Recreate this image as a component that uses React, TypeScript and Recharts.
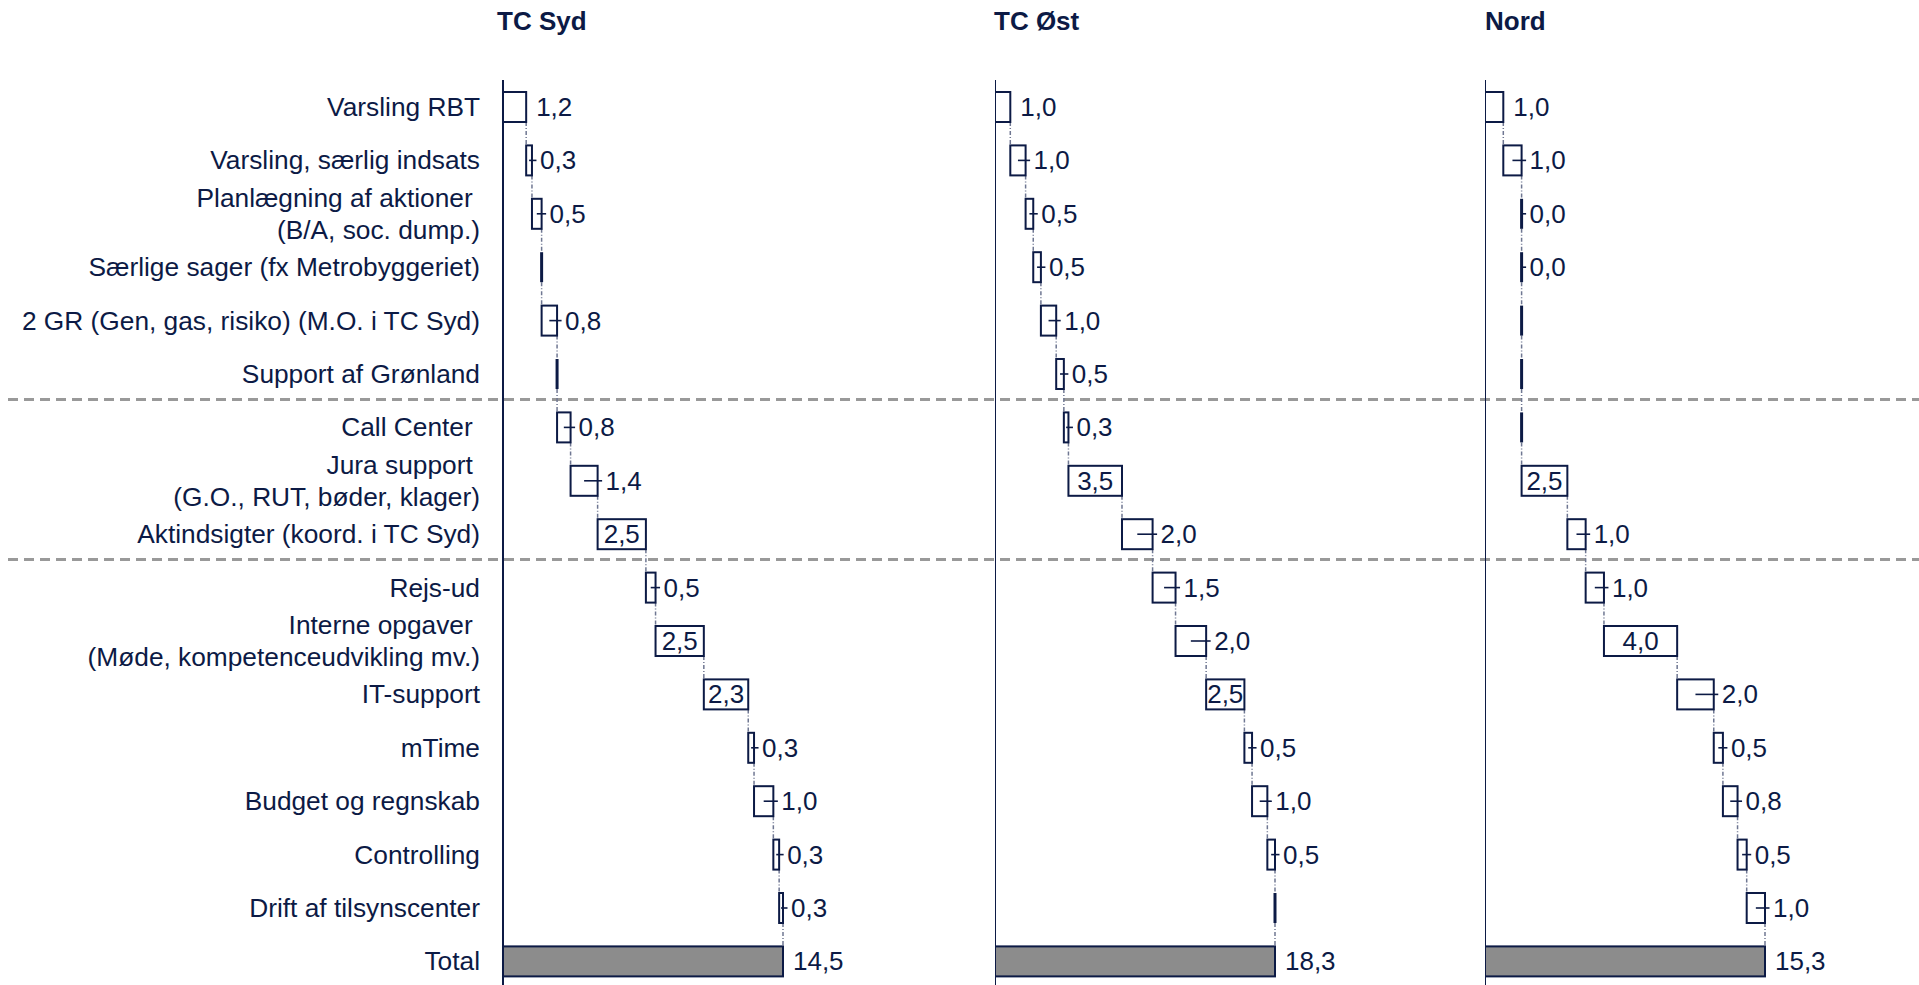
import React from "react";
import { BarChart, Bar, XAxis, YAxis, ReferenceLine } from "recharts";

const categories = [
  "Varsling RBT",
  "Varsling, særlig indsats",
  "Planlægning af aktioner \n(B/A, soc. dump.)",
  "Særlige sager (fx Metrobyggeriet)",
  "2 GR (Gen, gas, risiko) (M.O. i TC Syd)",
  "Support af Grønland",
  "Call Center ",
  "Jura support \n(G.O., RUT, bøder, klager)",
  "Aktindsigter (koord. i TC Syd)",
  "Rejs-ud",
  "Interne opgaver \n(Møde, kompetenceudvikling mv.)",
  "IT-support",
  "mTime",
  "Budget og regnskab",
  "Controlling",
  "Drift af tilsynscenter",
  "Total",
];

// first row index of each group below a dashed separator
const groupStarts = [6, 9];

const panelTitles = ["TC Syd", "TC Øst", "Nord"];

const sydValues = [1.2, 0.3, 0.5, 0, 0.8, 0, 0.7, 1.4, 2.5, 0.5, 2.5, 2.3, 0.3, 1.0, 0.3, 0.2];
const sydLabels = ["1,2", "0,3", "0,5", "", "0,8", "", "0,8", "1,4", "2,5", "0,5", "2,5", "2,3", "0,3", "1,0", "0,3", "0,3"];
const sydTotal = 14.5;

const ostValues = [1.0, 1.0, 0.5, 0.5, 1.0, 0.5, 0.3, 3.5, 2.0, 1.5, 2.0, 2.5, 0.5, 1.0, 0.5, 0];
const ostLabels = ["1,0", "1,0", "0,5", "0,5", "1,0", "0,5", "0,3", "3,5", "2,0", "1,5", "2,0", "2,5", "0,5", "1,0", "0,5", ""];
const ostTotal = 18.3;

const nordValues = [1.0, 1.0, 0, 0, 0, 0, 0, 2.5, 1.0, 1.0, 4.0, 2.0, 0.5, 0.8, 0.5, 1.0];
const nordLabels = ["1,0", "1,0", "0,0", "0,0", "", "", "", "2,5", "1,0", "1,0", "4,0", "2,0", "0,5", "0,8", "0,5", "1,0"];
const nordTotal = 15.3;

const NAVY = "#0c1a45";
const FONT = '"Liberation Sans", Arial, Helvetica, sans-serif';
const TOP = 80;
const STEP = 53.4;
const BAR = 30;
const CHART_H = TOP + STEP * categories.length;
const PLOT_W = 280;
const LABEL_X = 480;

const fmt = (v: number) => v.toFixed(1).replace(".", ",");

function buildRows(values: number[], labels: string[], total: number) {
  let run = 0;
  const rows = values.map((v, i) => {
    const start = run;
    run += v;
    return { name: categories[i], start, end: run, value: v, label: labels[i], kind: i === 0 ? "first" : "step" };
  });
  rows.push({ name: categories[categories.length - 1], start: 0, end: total, value: total, label: fmt(total), kind: "total" });
  return rows;
}

function StepShape(props: any) {
  const { x, y, width, height, payload } = props;
  const x1 = x + width;
  const x0 = payload.end > 0 ? x + (width * payload.start) / payload.end : x;
  const w = x1 - x0;
  const cy = y + height / 2;
  const isTotal = payload.kind === "total";
  const inside = !isTotal && payload.value >= 2.25;

  return (
    <g>
      {!isTotal && (
        <line
          x1={x1}
          x2={x1}
          y1={y + height}
          y2={y + height + STEP - BAR}
          stroke="#6f7792"
          strokeWidth={1.5}
          strokeDasharray="4 2 1 2"
        />
      )}
      {w < 0.5 ? (
        <line x1={x0} x2={x0} y1={y} y2={y + height} stroke={NAVY} strokeWidth={3} />
      ) : (
        <rect x={x0} y={y} width={w} height={height} fill={isTotal ? "#8c8c8c" : "#fff"} stroke={NAVY} strokeWidth={2} />
      )}
      {payload.label && payload.kind === "step" && !inside && (
        <line x1={x0 + w / 2} x2={x1 + 4.5} y1={cy} y2={cy} stroke={NAVY} strokeWidth={1.6} />
      )}
      {payload.label && (
        <text
          x={inside ? x0 + w / 2 : x1 + (payload.kind === "step" ? 8 : 10)}
          y={cy}
          dy="0.35em"
          textAnchor={inside ? "middle" : "start"}
          fill={NAVY}
          fontSize={26}
          fontFamily={FONT}
        >
          {payload.label}
        </text>
      )}
    </g>
  );
}

function CategoryTick(props: any) {
  const { y, payload } = props;
  const lines = String(payload.value).split("\n");
  const lh = 32;
  const y0 = y - ((lines.length - 1) * lh) / 2;
  return (
    <text textAnchor="end" fill={NAVY} fontSize={26.3} fontFamily={FONT} xmlSpace="preserve" style={{ whiteSpace: "pre" }}>
      {lines.map((l, i) => (
        <tspan key={i} x={LABEL_X} y={y0 + i * lh} dy="0.35em">
          {l}
        </tspan>
      ))}
    </text>
  );
}

function Panel({ rows, total, left, yAxisWidth, rightMargin, withLabels }: any) {
  return (
    <div style={{ position: "absolute", left, top: 0 }}>
      <BarChart
        layout="vertical"
        width={yAxisWidth + PLOT_W + rightMargin}
        height={CHART_H}
        data={rows}
        margin={{ top: TOP, right: rightMargin, bottom: 0, left: 0 }}
      >
        <XAxis type="number" domain={[0, total]} hide />
        {withLabels ? (
          <YAxis
            type="category"
            dataKey="name"
            width={yAxisWidth}
            interval={0}
            axisLine={{ stroke: NAVY, strokeWidth: 2 }}
            tickLine={false}
            tick={<CategoryTick />}
          />
        ) : (
          <YAxis type="category" dataKey="name" hide />
        )}
        {!withLabels && <ReferenceLine x={0} stroke={NAVY} strokeWidth={2} />}
        <Bar dataKey="end" barSize={BAR} shape={<StepShape />} isAnimationActive={false} />
      </BarChart>
    </div>
  );
}

export default function App() {
  const titleLefts = [497, 994, 1485];
  return (
    <div
      style={{
        position: "absolute",
        left: 0,
        top: 0,
        width: 1919,
        height: 985,
        overflow: "hidden",
        background: "#fff",
        fontFamily: FONT,
      }}
    >
      <svg style={{ position: "absolute", left: 0, top: 0 }} width={1919} height={985}>
        {groupStarts.map((g) => (
          <line
            key={g}
            x1={8}
            x2={1919}
            y1={TOP + g * STEP - 1}
            y2={TOP + g * STEP - 1}
            stroke="#999"
            strokeWidth={3}
            strokeDasharray="10 6"
          />
        ))}
      </svg>
      {panelTitles.map((t, i) => (
        <div
          key={t}
          style={{
            position: "absolute",
            left: titleLefts[i],
            top: 8,
            fontSize: 26,
            lineHeight: "26px",
            fontWeight: "bold",
            color: NAVY,
          }}
        >
          {t}
        </div>
      ))}
      <Panel rows={buildRows(sydValues, sydLabels, sydTotal)} total={sydTotal} left={0} yAxisWidth={503} rightMargin={200} withLabels />
      <Panel rows={buildRows(ostValues, ostLabels, ostTotal)} total={ostTotal} left={995} yAxisWidth={0} rightMargin={180} />
      <Panel rows={buildRows(nordValues, nordLabels, nordTotal)} total={nordTotal} left={1485} yAxisWidth={0} rightMargin={150} />
    </div>
  );
}
